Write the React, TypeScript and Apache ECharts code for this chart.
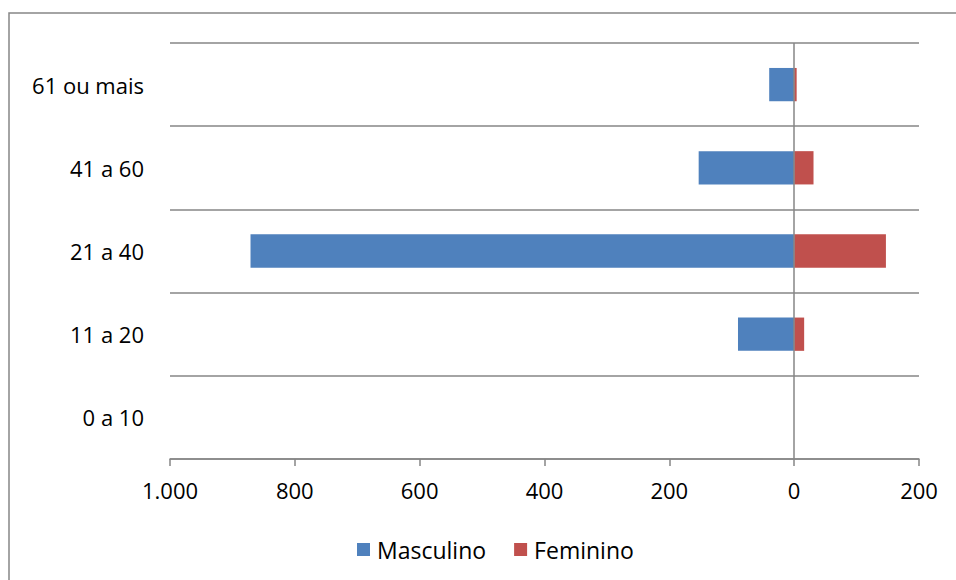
import React, { useEffect, useRef } from "react";
import * as echarts from "echarts";

const categories = ["0 a 10", "11 a 20", "21 a 40", "41 a 60", "61 ou mais"];
const masculino = [0, 90, 871, 153, 40];
const feminino = [0, 16, 147, 31, 4];
const seriesNames = ["Masculino", "Feminino"];
const xMin = -1000;
const xMax = 200;
const xStep = 200;

const FONT = "Open Sans";

function fmt(v: number): string {
  const a = Math.abs(v);
  return a.toString().replace(/\B(?=(\d{3})+(?!\d))/g, ".");
}

export default function App() {
  const ref = useRef<HTMLDivElement>(null);
  useEffect(() => {
    document.body.style.margin = "0";
    const chart = echarts.init(ref.current!, null, { renderer: "svg" });
    chart.setOption({
      animation: false,
      backgroundColor: "#ffffff",
      textStyle: { fontFamily: FONT },
      graphic: [
        {
          type: "rect",
          shape: { x: 9, y: 13, width: 980, height: 600 },
          style: { fill: "none", stroke: "#868686", lineWidth: 1.5 },
          silent: true,
          z: -1,
        },
      ],
      legend: {
        data: seriesNames,
        left: 352,
        top: 533,
        itemWidth: 13,
        itemHeight: 13,
        itemGap: 28,
        icon: "rect",
        textStyle: { fontFamily: FONT, fontSize: 23, color: "#000", padding: [0, 0, 0, 2] },
      },
      grid: { left: 170, right: 37, top: 43, bottom: 121, containLabel: false },
      xAxis: {
        type: "value",
        min: xMin,
        max: xMax,
        interval: xStep,
        axisLine: { show: true, onZero: false, lineStyle: { color: "#868686", width: 1.5 } },
        axisTick: { show: true, length: 7, lineStyle: { color: "#868686", width: 1.5 } },
        splitLine: { show: false },
        axisLabel: {
          color: "#000",
          fontFamily: FONT,
          fontSize: 22,
          margin: 20,
          formatter: (v: number) => fmt(v),
        },
      },
      yAxis: {
        type: "category",
        data: categories,
        axisLine: { show: false },
        axisTick: { show: false },
        splitLine: { show: true, lineStyle: { color: "#868686", width: 1.5 } },
        axisLabel: { color: "#000", fontFamily: FONT, fontSize: 22, margin: 26 },
      },
      series: [
        {
          name: seriesNames[0],
          type: "bar",
          data: masculino.map((v) => -v),
          itemStyle: { color: "#4F81BD" },
          barCategoryGap: "60%",
          barGap: "-100%",
          markLine: {
            silent: true,
            symbol: "none",
            label: { show: false },
            lineStyle: { color: "#868686", width: 1.5, type: "solid" },
            data: [{ xAxis: 0 }],
            z: 10,
          },
        },
        {
          name: seriesNames[1],
          type: "bar",
          data: feminino,
          itemStyle: { color: "#C0504D" },
          barCategoryGap: "60%",
          barGap: "-100%",
        },
      ],
    });
    return () => chart.dispose();
  }, []);
  return <div ref={ref} style={{ width: 956, height: 580 }} />;
}
